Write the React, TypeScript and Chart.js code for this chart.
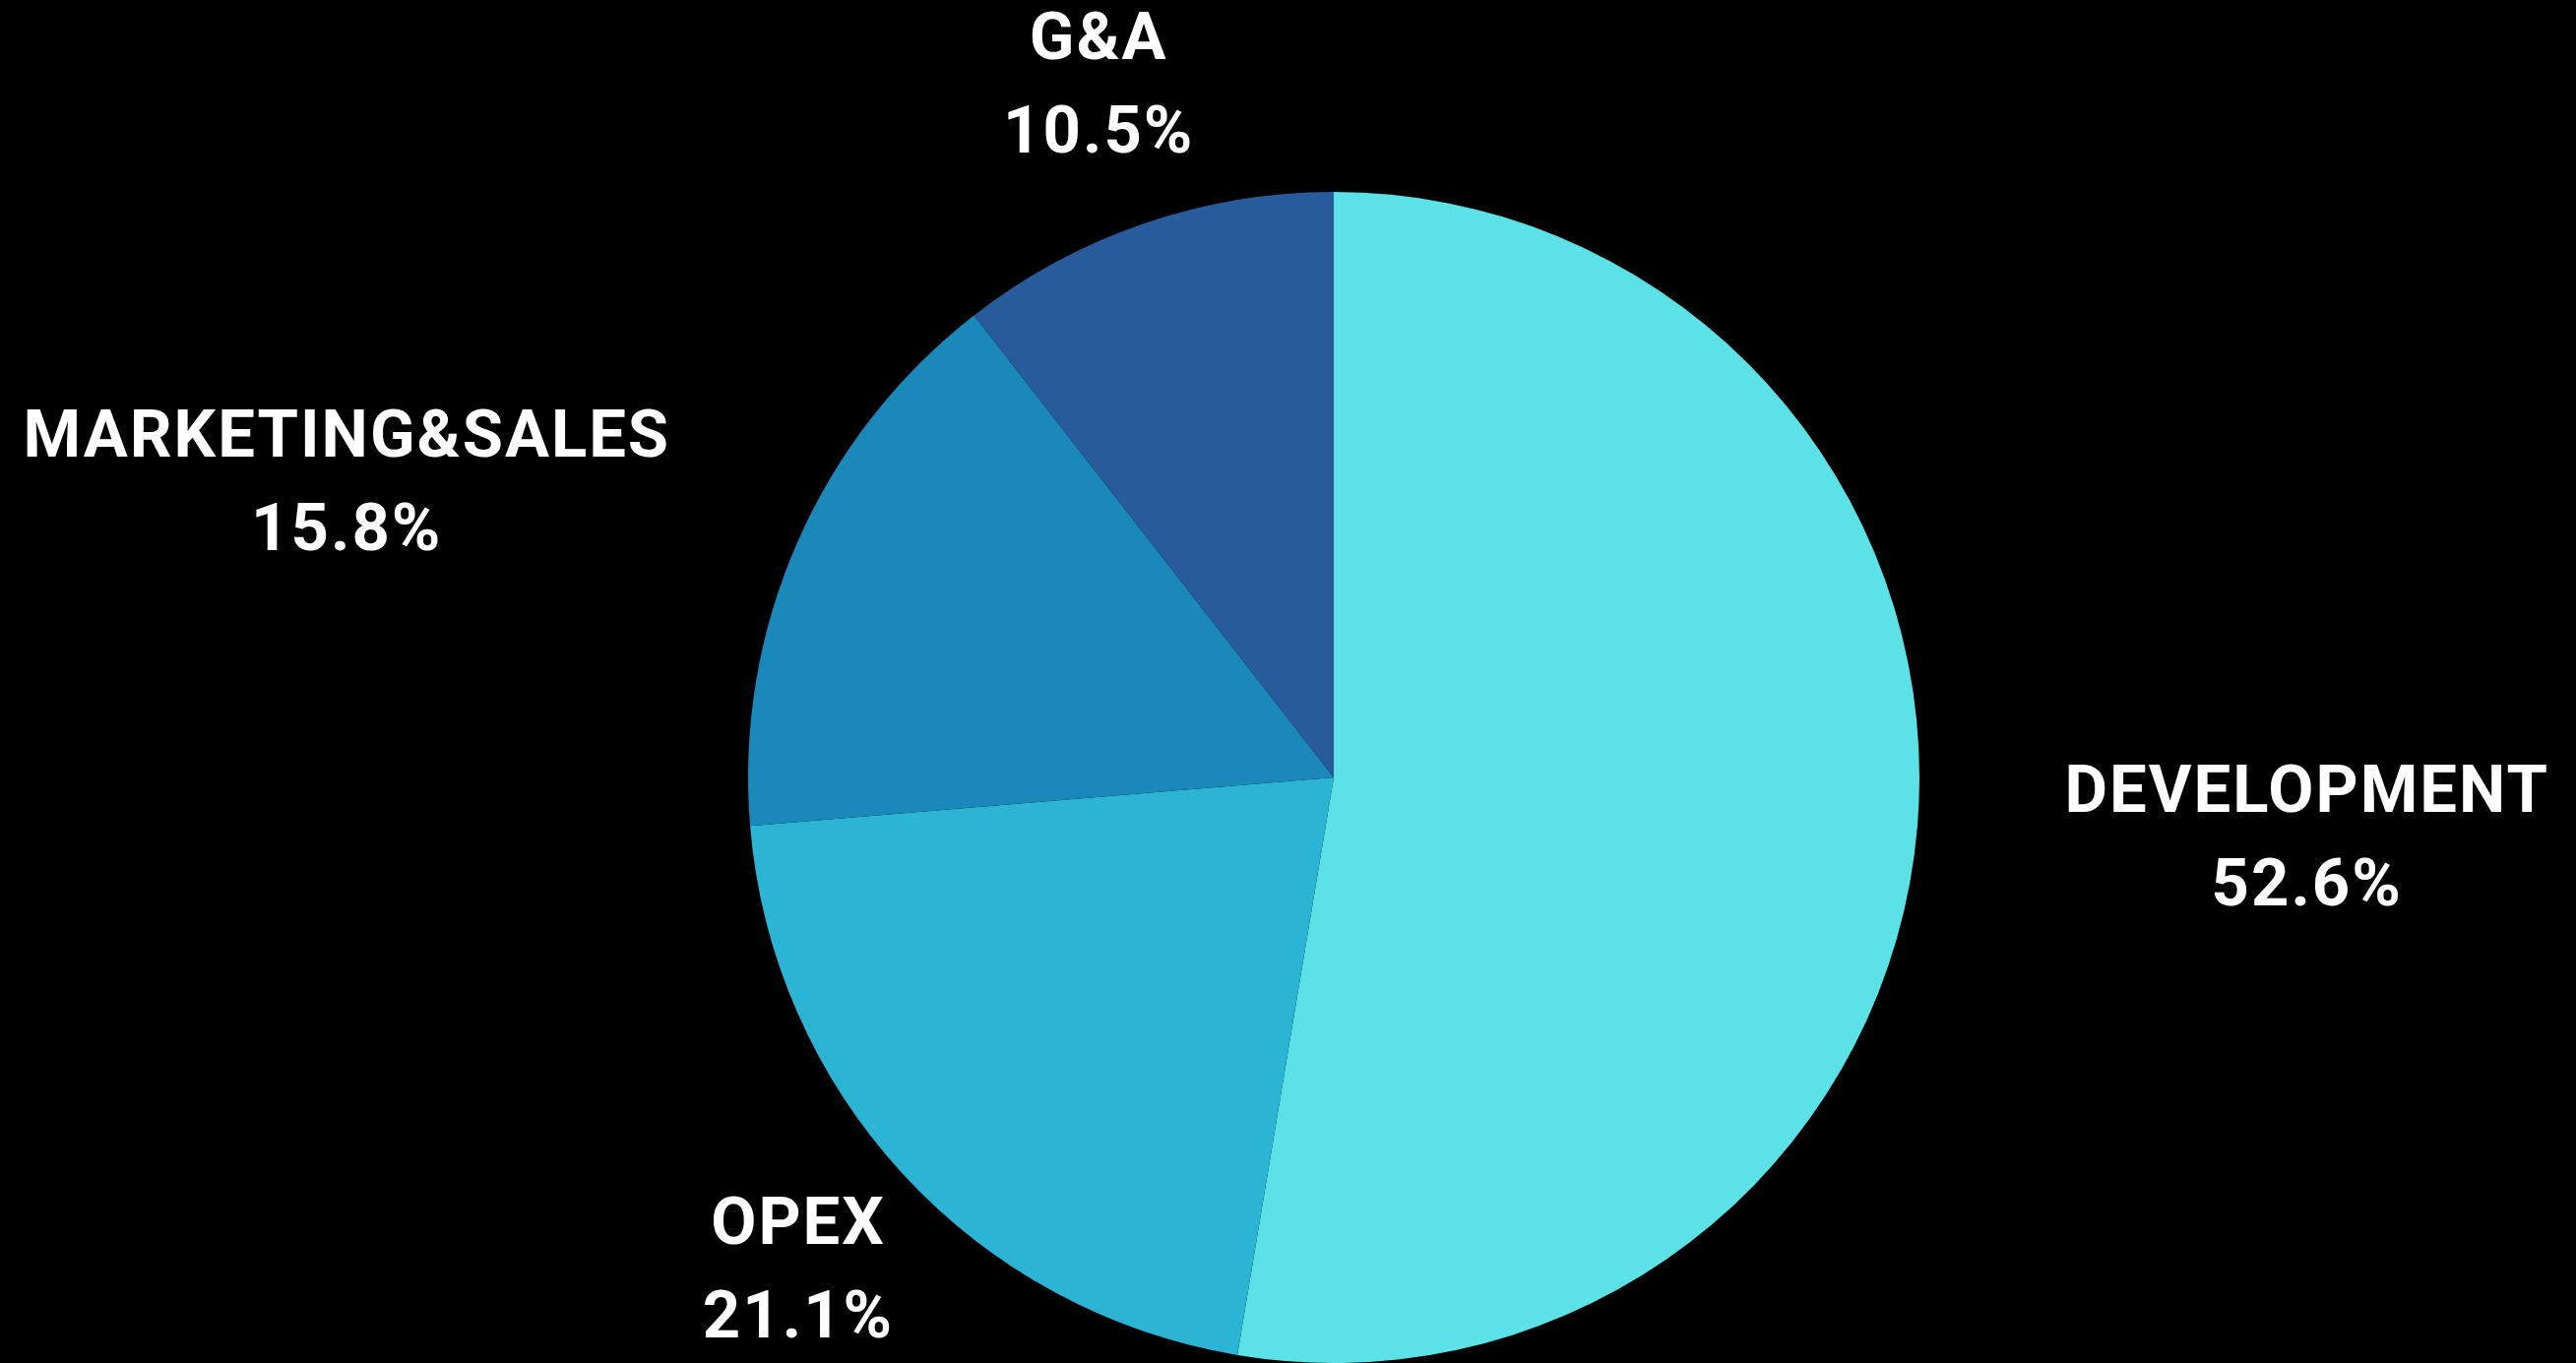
import React, { useEffect, useRef } from "react";
import { Chart, registerables } from "chart.js";

Chart.register(...registerables);

const categories = ["DEVELOPMENT", "OPEX", "MARKETING&SALES", "G&A"];
const values = [10, 4, 3, 2];
const colors = ["#5CE1E6", "#2CB4D5", "#1A89BA", "#285B9A"];

// label centre offsets, in units of pie radius, relative to pie centre
const labelOffsets = [
  [1.66, 0.11],
  [-0.916, 0.848],
  [-1.687, -0.497],
  [-0.403, -1.176],
];

const W = 2617;
const H = 1385;

const labelPlugin = {
  id: "outerLabels",
  afterDatasetsDraw(chart: any) {
    const ctx = chart.ctx;
    const meta = chart.getDatasetMeta(0);
    const data = chart.data.datasets[0].data as number[];
    const total = data.reduce((a, b) => a + b, 0);
    ctx.save();
    ctx.fillStyle = "#ffffff";
    ctx.textAlign = "center";
    ctx.textBaseline = "middle";
    ctx.font = "700 67px Roboto";
    (ctx as any).letterSpacing = "2px";
    meta.data.forEach((arc: any, i: number) => {
      const r = arc.outerRadius;
      const cx = arc.x + labelOffsets[i][0] * r;
      const cy = arc.y + labelOffsets[i][1] * r;
      const pct = ((data[i] / total) * 100).toFixed(1) + "%";
      const gap = 95;
      ctx.fillText(chart.data.labels[i], cx + 1, cy - gap / 2);
      ctx.fillText(pct, cx + 1, cy + gap / 2);
    });
    ctx.restore();
  },
};

export default function App() {
  const ref = useRef<HTMLCanvasElement>(null);
  useEffect(() => {
    document.body.style.margin = "0";
    document.body.style.background = "#000";
    const chart = new Chart(ref.current!, {
      type: "pie",
      data: {
        labels: categories,
        datasets: [
          {
            data: values,
            backgroundColor: colors,
            borderWidth: 0,
          },
        ],
      },
      options: {
        animation: false,
        responsive: false,
        devicePixelRatio: 1,
        layout: { padding: { top: 195, bottom: 0, left: 760, right: 667 } },
        plugins: {
          legend: { display: false },
          tooltip: { enabled: false },
        },
      },
      plugins: [labelPlugin],
    });
    return () => chart.destroy();
  }, []);
  return (
    <div style={{ width: W, height: H, background: "#000", overflow: "hidden" }}>
      <canvas ref={ref} width={W} height={H} style={{ display: "block" }} />
    </div>
  );
}
